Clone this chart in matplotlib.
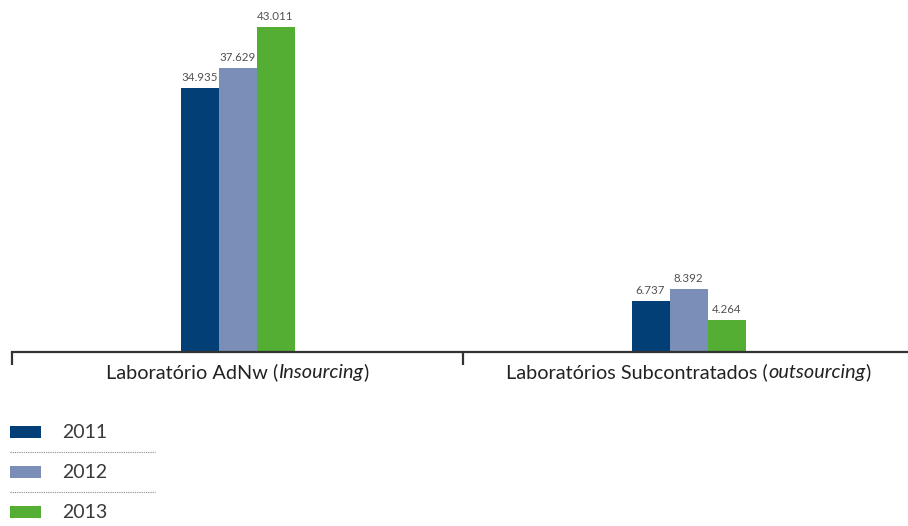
import matplotlib
matplotlib.use("Agg")
import matplotlib.pyplot as plt
from matplotlib.patches import Rectangle
from matplotlib.lines import Line2D
from matplotlib.offsetbox import TextArea, HPacker, AnnotationBbox

plt.rcParams['font.family'] = ['Lato', 'DejaVu Sans']

# Data
categories = [("Laboratório AdNw (", "Insourcing", ")"),
              ("Laboratórios Subcontratados (", "outsourcing", ")")]
years = ["2011", "2012", "2013"]
values = {
    "2011": [34.935, 6.737],
    "2012": [37.629, 8.392],
    "2013": [43.011, 4.264],
}
colors = ["#023f77", "#7a8eb8", "#53ae33"]

W, H = 908, 526
fig = plt.figure(figsize=(W / 100, H / 100), dpi=100)

# Main bar axes: baseline at 352 px from the top, spanning the full width
base_px = 352
ax = fig.add_axes([12 / W, (H - base_px) / H, 902 / W, base_px / H])
ax.set_xlim(0, len(categories))
ax.set_ylim(0, 46.6)

bar_w = 38 / 451
centers = [i + 0.5 for i in range(len(categories))]
for j, (yr, col) in enumerate(zip(years, colors)):
    xs = [c + (j - 1) * bar_w for c in centers]
    bars = ax.bar(xs, values[yr], width=bar_w, color=col, linewidth=0, zorder=2)
    for b, v in zip(bars, values[yr]):
        ax.annotate(f"{v:.3f}", (b.get_x() + b.get_width() / 2, v),
                    xytext=(0, 3.5), textcoords="offset points",
                    ha="center", va="bottom", fontsize=8.3,
                    color="#505050")

for s in ["top", "right", "left"]:
    ax.spines[s].set_visible(False)
ax.spines["bottom"].set_color("#333333")
ax.spines["bottom"].set_linewidth(1.6)
ax.set_yticks([])
ax.set_xticks([])
ax.set_xticks(range(len(categories) + 1), minor=True)
ax.tick_params(axis="x", which="minor", direction="out", length=9.5,
               width=1.6, color="#333333", labelbottom=False)

# Category labels with italic qualifiers
for c, (pre, ital, post) in zip(centers, categories):
    parts = [TextArea(pre, textprops=dict(fontsize=14.3, color="#222222")),
             TextArea(ital, textprops=dict(fontsize=14.3, color="#222222",
                                           fontstyle="italic")),
             TextArea(post, textprops=dict(fontsize=14.3, color="#222222"))]
    box = HPacker(children=parts, pad=0, sep=0, align="baseline")
    ab = AnnotationBbox(box, (c, 0), xycoords=ax.get_xaxis_transform(),
                        xybox=(0, -14.5), boxcoords="offset points",
                        box_alignment=(0.5, 0.5), frameon=False)
    ax.add_artist(ab)

# Legend drawn in pixel space below the chart
lax = fig.add_axes([0, 0, 1, 1])
lax.set_xlim(0, W)
lax.set_ylim(H, 0)
lax.axis("off")
row_y = [432, 472, 512]
for k, (yr, col, y) in enumerate(zip(years, colors, row_y)):
    lax.add_patch(Rectangle((10, y - 6), 31, 12, color=col, linewidth=0))
    lax.text(62, y, yr, fontsize=14, color="#3a3a3a", va="center",
             ha="left")
    if k < len(years) - 1:
        lax.add_line(Line2D([10, 155], [y + 20, y + 20], color="#888888",
                            linewidth=0.8, linestyle=(0, (1, 1))))

fig.savefig("out.png", dpi=100)
